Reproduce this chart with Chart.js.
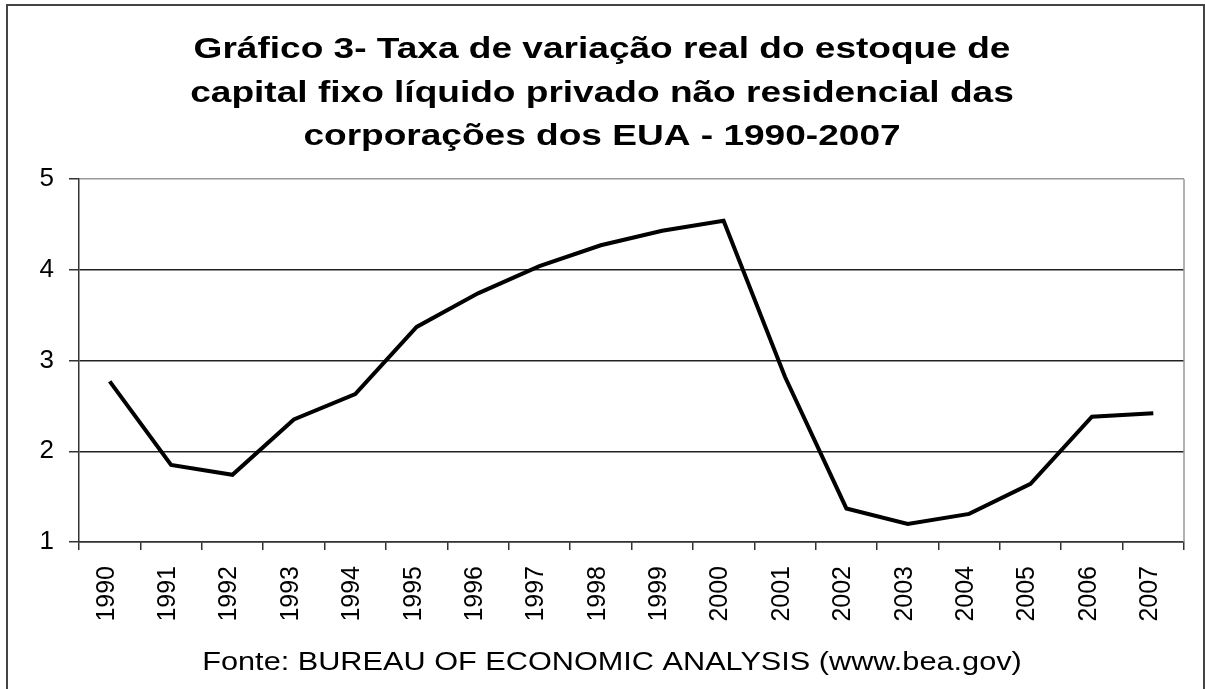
<!DOCTYPE html>
<html>
<head>
<meta charset="utf-8">
<script src="https://cdn.jsdelivr.net/npm/chart.js@4/dist/chart.umd.min.js"></script>
<style>
    html, body { margin: 0; padding: 0; background: #ffffff; }
    canvas { display: block; }
</style>
</head>
<body>
<canvas id="line-chart" width="1205" height="689"></canvas>
<script>
const years = ["1990", "1991", "1992", "1993", "1994", "1995", "1996", "1997", "1998",
    "1999", "2000", "2001", "2002", "2003", "2004", "2005", "2006", "2007"];
const taxaVariacao = [2.77, 1.85, 1.74, 2.35, 2.63, 3.37, 3.74, 4.04, 4.27,
    4.43, 4.54, 2.82, 1.37, 1.20, 1.31, 1.64, 2.38, 2.42];
const yTicks = [1, 2, 3, 4, 5];
const titleLines = [
    "Gráfico 3- Taxa de variação real do estoque de",
    "capital fixo líquido privado não residencial das",
    "corporações dos EUA - 1990-2007"
];
const fonte = "Fonte: BUREAU OF ECONOMIC ANALYSIS (www.bea.gov)";

const FONT = "'Liberation Sans', Arial, sans-serif";

document.addEventListener("DOMContentLoaded", () => {
    const chartCanvas = document.getElementById('line-chart');

    // texto esticado na horizontal, como no original
    const drawWide = (ctx, text, cx, cy, sx) => {
        ctx.save();
        ctx.translate(cx, cy);
        ctx.scale(sx, 1);
        ctx.fillText(text, 0, 0);
        ctx.restore();
    };

    // moldura, borda direita, título e fonte
    const framePlugin = {
        id: 'frame',
        afterDraw: (chart) => {
            const ctx = chart.ctx;
            const area = chart.chartArea;
            ctx.save();
            ctx.strokeStyle = "#444";
            ctx.lineWidth = 2;
            ctx.beginPath();
            ctx.moveTo(7, 689);
            ctx.lineTo(7, 5);
            ctx.lineTo(1204, 5);
            ctx.lineTo(1204, 689);
            ctx.stroke();

            ctx.strokeStyle = "#999";
            ctx.lineWidth = 1.5;
            ctx.beginPath();
            ctx.moveTo(area.right, area.top);
            ctx.lineTo(area.right, area.bottom);
            ctx.stroke();

            ctx.fillStyle = "#000";
            ctx.textAlign = "center";
            ctx.textBaseline = "middle";
            ctx.font = "bold 30px " + FONT;
            titleLines.forEach((line, i) => {
                drawWide(ctx, line, 602, 50 + i * 43.5, 1.235);
            });

            ctx.font = "26px " + FONT;
            drawWide(ctx, fonte, 612, 663, 1.18);
            ctx.restore();
        }
    };

    const chart = new Chart(chartCanvas, {
        type: 'line',
        data: {
            labels: years,
            datasets: [{
                data: taxaVariacao,
                borderColor: "#000",
                borderWidth: 4,
                pointRadius: 0,
                tension: 0,
                fill: false
            }]
        },
        plugins: [framePlugin],
        options: {
            responsive: false,
            animation: false,
            devicePixelRatio: 1,
            layout: {
                padding: { left: 0, right: 21, top: 179, bottom: 41 }
            },
            plugins: {
                legend: { display: false },
                tooltip: { enabled: false },
                title: { display: false }
            },
            scales: {
                x: {
                    offset: true,
                    afterFit: (scale) => { scale.height = 106; },
                    grid: {
                        display: true,
                        offset: true,
                        drawOnChartArea: false,
                        drawTicks: true,
                        tickLength: 8,
                        color: "#333",
                        lineWidth: 1.5
                    },
                    border: { display: true, color: "#333", width: 1.5 },
                    ticks: {
                        autoSkip: false,
                        minRotation: 90,
                        maxRotation: 90,
                        padding: 16,
                        labelOffset: -3,
                        color: "#000",
                        font: { family: FONT, size: 25 }
                    }
                },
                y: {
                    min: 1,
                    max: 5,
                    afterFit: (scale) => { scale.width = 79; },
                    afterBuildTicks: (scale) => {
                        scale.ticks = yTicks.map(v => ({ value: v }));
                    },
                    grid: {
                        drawTicks: true,
                        tickLength: 10,
                        lineWidth: 1.5,
                        color: (c) => c.tick && c.tick.value === 5 ? "#999" : "#222",
                        tickColor: "#333"
                    },
                    border: { display: true, color: "#333", width: 1.5 },
                    ticks: {
                        padding: 15,
                        color: "#000",
                        font: { family: FONT, size: 26 }
                    }
                }
            }
        }
    });
});
</script>
</body>
</html>
